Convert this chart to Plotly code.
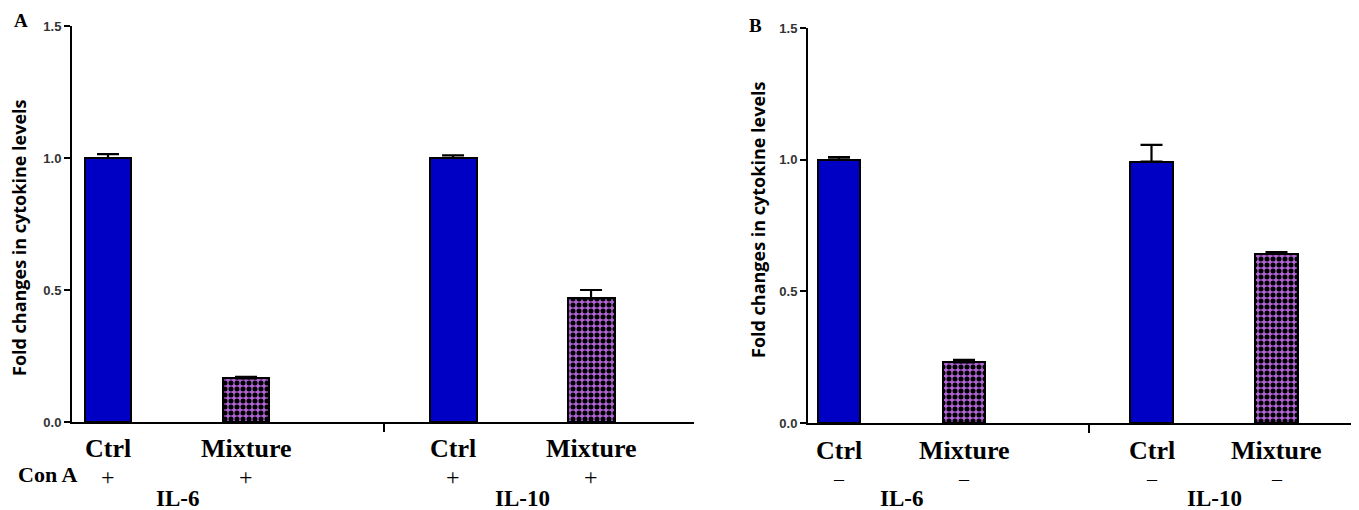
import plotly.graph_objects as go

# ---- data ----
categories = ["Ctrl", "Mixture", "Ctrl", "Mixture"]
groups = ["IL-6", "IL-10"]
conA_A = ["+", "+", "+", "+"]
conA_B = ["–", "–", "–", "–"]
valsA = [1.0, 0.165, 1.0, 0.468]
errA = [0.015, 0.006, 0.01, 0.032]
valsB = [1.0, 0.23, 0.993, 0.643]
errB = [0.01, 0.01, 0.063, 0.006]
yticks = [0.0, 0.5, 1.0, 1.5]
ytick_text = ["0.0", "0.5", "1.0", "1.5"]

# ---- layout helpers ----
positions = [1, 2, 3.5, 4.5]
group_pos = [1.5, 4.0]
is_ctrl = [c == "Ctrl" for c in categories]
BLUE = "#0000c4"
PURPLE = "#b264d6"
W, H = 1359, 510
OFF = 8  # page offset of the figure

def py(px):
    return 1 - (px - OFF) / H

def pxx(px):
    return (px - OFF) / W

fig = go.Figure()

for vals, errs, xa, ya in [(valsA, errA, "x", "y"), (valsB, errB, "x2", "y2")]:
    cx = [p for p, c in zip(positions, is_ctrl) if c]
    cy = [v for v, c in zip(vals, is_ctrl) if c]
    ce = [e for e, c in zip(errs, is_ctrl) if c]
    mx = [p for p, c in zip(positions, is_ctrl) if not c]
    my = [v for v, c in zip(vals, is_ctrl) if not c]
    me = [e for e, c in zip(errs, is_ctrl) if not c]
    fig.add_trace(go.Bar(
        x=cx, y=cy, width=0.34, xaxis=xa, yaxis=ya,
        marker=dict(color=BLUE, line=dict(color="black", width=2)),
        error_y=dict(type="data", array=ce, arrayminus=[0] * len(ce), symmetric=False,
                     color="black", thickness=2.2, width=11),
        showlegend=False, hoverinfo="y"))
    fig.add_trace(go.Bar(
        x=mx, y=my, width=0.34, xaxis=xa, yaxis=ya,
        marker=dict(color=PURPLE, line=dict(color="black", width=2),
                    pattern=dict(shape=".", fgcolor="black", bgcolor=PURPLE,
                                 size=6, solidity=0.55, fillmode="replace")),
        error_y=dict(type="data", array=me, arrayminus=[0] * len(me), symmetric=False,
                     color="black", thickness=2.2, width=11),
        showlegend=False, hoverinfo="y"))

yaxis_common = dict(range=[0, 1.5], tickvals=yticks, ticktext=ytick_text,
                    ticks="outside", ticklen=6, tickwidth=2, tickcolor="black",
                    showline=True, linecolor="black", linewidth=2,
                    showgrid=False, zeroline=False, automargin=False,
                    tickfont=dict(family="Liberation Sans", size=13, color="#333333", weight="bold"))
xaxis_common = dict(tickvals=[3.0], ticktext=[""], ticks="outside", ticklen=8, tickwidth=2,
                    tickcolor="black", showline=True, linecolor="black", linewidth=2,
                    showgrid=False, zeroline=False, automargin=False)

fig.update_layout(
    width=W, height=H,
    margin=dict(l=0, r=0, t=0, b=0, pad=0, autoexpand=False),
    paper_bgcolor="white", plot_bgcolor="white",
    bargap=0,
    xaxis=dict(domain=[pxx(72), pxx(694)], range=[0.739, 5.246], anchor="y", **xaxis_common),
    yaxis=dict(domain=[py(422), py(26)], anchor="x", **yaxis_common),
    xaxis2=dict(domain=[pxx(808), pxx(1359)], range=[0.752, 5.16], anchor="y2", **xaxis_common),
    yaxis2=dict(domain=[py(423), py(28)], anchor="x2", **yaxis_common),
)

serif = "Liberation Serif"
ann = []

def add(text, x, y, xref, size, family=serif, angle=0):
    ann.append(dict(text=text, x=x, y=y, xref=xref, yref="paper", showarrow=False,
                    xanchor="center", yanchor="middle", textangle=angle,
                    font=dict(family=family, size=size, color="black")))

# panel letters
add("<b>A</b>", pxx(21), py(20), "paper", 19)
add("<b>B</b>", pxx(755), py(26), "paper", 19)
# y titles
add("<b>Fold changes in cytokine levels</b>", pxx(19), py(238), "paper", 18, "Open Sans", -90)
add("<b>Fold changes in cytokine levels</b>", pxx(758), py(220), "paper", 18, "Open Sans", -90)
# Con A
add("<b>Con A</b>", pxx(47), py(474), "paper", 22)

for xr, signs, ycat, ysign, sgn_size, ygrp in [("x", conA_A, 448, 477, 24, 498),
                                              ("x2", conA_B, 450, 479, 20, 498)]:
    for p, c, s in zip(positions, categories, signs):
        add("<b>" + c + "</b>", p, py(ycat), xr, 26)
        add(s, p, py(ysign), xr, sgn_size)
    for gp, g in zip(group_pos, groups):
        add("<b>" + g + "</b>", gp, py(ygrp), xr, 23)

fig.update_layout(annotations=ann)
fig.write_html("out.html")
